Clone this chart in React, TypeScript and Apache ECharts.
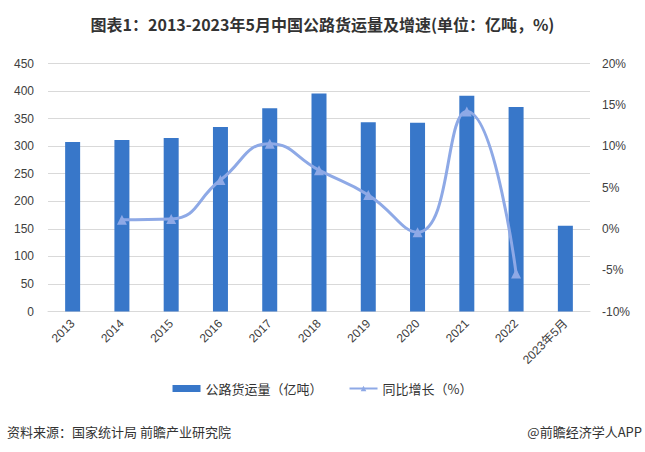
import React, { useEffect, useRef } from "react";
import * as echarts from "echarts";

const categories = ["2013", "2014", "2015", "2016", "2017", "2018", "2019", "2020", "2021", "2022", "2023年5月"];
const freightVolume = [307.7, 311.3, 315.0, 334.8, 368.7, 395.7, 343.5, 342.6, 391.4, 371.2, 155.5];
const growthRate: (number | null)[] = [null, 1.1, 1.2, 5.9, 10.3, 7.1, 4.1, -0.4, 14.2, -5.4, null];
const leftTicks = [0, 50, 100, 150, 200, 250, 300, 350, 400, 450];
const rightTicks = [-10, -5, 0, 5, 10, 15, 20];

const FONT = "'Liberation Sans', 'Noto Sans CJK SC', sans-serif";

export default function App() {
  const ref = useRef<HTMLDivElement>(null);
  useEffect(() => {
    document.body.style.margin = "0";
    const chart = echarts.init(ref.current!, null, { renderer: "svg" });
    chart.setOption({
      animation: false,
      backgroundColor: "#ffffff",
      title: {
        text: "图表1：2013-2023年5月中国公路货运量及增速(单位：亿吨，%)",
        left: "center",
        top: 11,
        textStyle: { fontFamily: "'Noto Sans CJK SC', sans-serif", fontWeight: "bold", fontSize: 16, color: "#333333" },
      },
      grid: { left: 48, right: 55, top: 63.5, bottom: 140.5 },
      legend: {
        bottom: 52,
        left: "center",
        itemGap: 26,
        itemWidth: 28,
        itemHeight: 7,
        textStyle: { fontFamily: "'Noto Sans CJK SC', sans-serif", fontSize: 13, color: "#333333" },
        data: [
          { name: "公路货运量（亿吨）", icon: "rect" },
          { name: "同比增长（%）" },
        ],
      },
      xAxis: {
        type: "category",
        data: categories,
        axisLine: { lineStyle: { color: "#d9d9d9" } },
        axisTick: { show: false },
        axisLabel: {
          rotate: 45,
          interval: 0,
          fontSize: 12,
          fontFamily: FONT,
          color: "#404040",
          margin: 10,
        },
      },
      yAxis: [
        {
          type: "value",
          min: leftTicks[0],
          max: leftTicks[leftTicks.length - 1],
          interval: 50,
          axisLine: { show: false },
          axisTick: { show: false },
          splitLine: { lineStyle: { color: "#d9d9d9" } },
          axisLabel: { fontSize: 12, fontFamily: FONT, color: "#404040", margin: 14 },
        },
        {
          type: "value",
          min: rightTicks[0],
          max: rightTicks[rightTicks.length - 1],
          interval: 5,
          axisLine: { show: false },
          axisTick: { show: false },
          splitLine: { show: false },
          axisLabel: { fontSize: 12, fontFamily: FONT, color: "#404040", margin: 12, formatter: "{value}%" },
        },
      ],
      series: [
        {
          name: "公路货运量（亿吨）",
          type: "bar",
          data: freightVolume,
          barWidth: 15,
          itemStyle: { color: "#3877C9" },
        },
        {
          name: "同比增长（%）",
          type: "line",
          yAxisIndex: 1,
          data: growthRate,
          smooth: 0.5,
          symbol: "triangle",
          symbolSize: 10,
          connectNulls: false,
          lineStyle: { color: "#8EA9E6", width: 3 },
          itemStyle: { color: "#8EA9E6" },
        },
      ],
      graphic: [
        {
          type: "text",
          left: 7,
          top: 425,
          style: { text: "资料来源：国家统计局 前瞻产业研究院", fontSize: 13, fill: "#333333", fontFamily: "'Noto Sans CJK SC', sans-serif" },
        },
        {
          type: "text",
          right: 3,
          top: 425,
          style: { text: "@前瞻经济学人APP", fontSize: 13, fill: "#333333", fontFamily: "'Noto Sans CJK SC', sans-serif" },
        },
      ],
    });
    return () => chart.dispose();
  }, []);
  return <div ref={ref} style={{ width: 645, height: 452 }} />;
}
